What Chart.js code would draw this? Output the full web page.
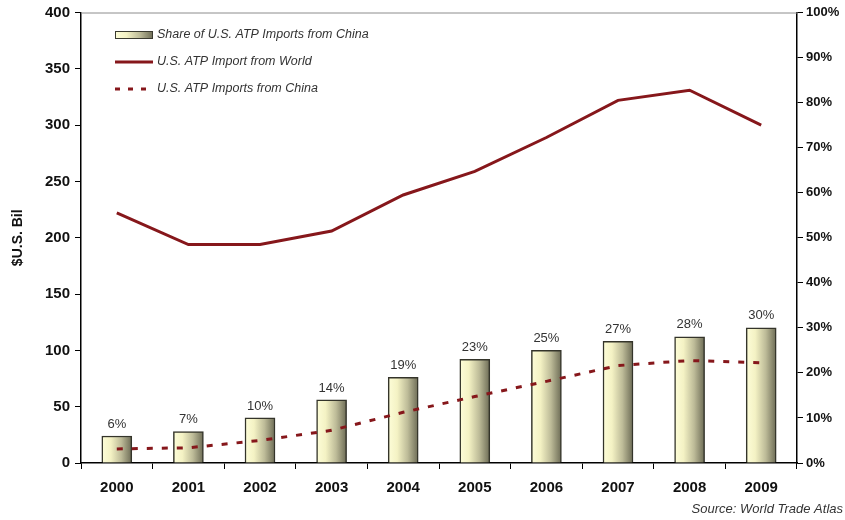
<!DOCTYPE html>
<html>
<head>
<meta charset="utf-8">
<script src="https://cdn.jsdelivr.net/npm/chart.js@4.4.1/dist/chart.umd.min.js"></script>
<style>
  html, body { margin: 0; padding: 0; background: #fff; }
  #wrap { width: 845px; height: 520px; }
</style>
</head>
<body>
<div id="wrap"><canvas id="myChart" width="845" height="520"></canvas></div>
<script>
const years = ['2000', '2001', '2002', '2003', '2004', '2005', '2006', '2007', '2008', '2009'];
const chinaShare = [6, 7, 10, 14, 19, 23, 25, 27, 28, 30];            // percent
const worldImports = [222, 194, 194, 206, 238, 259, 289, 322, 331, 300]; // $ bil
const chinaImports = [12.5, 13.5, 20, 29, 45, 59, 72.5, 86.5, 91, 89];   // $ bil
const leftTicks = [0, 50, 100, 150, 200, 250, 300, 350, 400];
const rightTicks = [0, 10, 20, 30, 40, 50, 60, 70, 80, 90, 100];

const FONT = '"Liberation Sans", Arial, sans-serif';
const RED = '#86171b';
const BAR_W = 30;

const barGradient = (ctx, x0, x1) => {
    const g = ctx.createLinearGradient(x0, 0, x1, 0);
    g.addColorStop(0, '#fdfdd8');
    g.addColorStop(0.3, '#f4f2c4');
    g.addColorStop(0.65, '#bdbb98');
    g.addColorStop(1, '#6c6b55');
    return g;
};

// legend box in the upper left of the plot, plus source note and top frame line
const decorations = {
    id: 'decorations',
    afterDraw(chart) {
        const { ctx, chartArea } = chart;
        ctx.save();
        // top frame line
        ctx.strokeStyle = '#8c8c8c';
        ctx.lineWidth = 1;
        ctx.beginPath();
        ctx.moveTo(chartArea.left, chartArea.top + 0.5);
        ctx.lineTo(chartArea.right, chartArea.top + 0.5);
        ctx.stroke();

        // value labels above bars
        const meta = chart.getDatasetMeta(0);
        ctx.font = '13px ' + FONT;
        ctx.fillStyle = '#333';
        ctx.textAlign = 'center';
        ctx.textBaseline = 'middle';
        meta.data.forEach((bar, i) => {
            ctx.fillText(chinaShare[i] + '%', bar.x, bar.y - 12);
        });

        // legend
        const lx0 = 115, lx1 = 153, tx = 157;
        const rows = [35, 62, 89];
        ctx.font = 'italic 12.5px ' + FONT;
        ctx.textAlign = 'left';
        ctx.fillStyle = '#333';
        chart.data.datasets.forEach((ds, i) => {
            const y = rows[i];
            if (i === 0) {
                ctx.fillStyle = barGradient(ctx, lx0, lx1);
                ctx.fillRect(lx0, y - 4, lx1 - lx0, 8);
                ctx.strokeStyle = '#3a3a30';
                ctx.lineWidth = 1;
                ctx.strokeRect(lx0 + 0.5, y - 3.5, lx1 - lx0 - 1, 7);
            } else {
                ctx.strokeStyle = RED;
                ctx.lineWidth = 3;
                ctx.setLineDash(i === 2 ? [5, 8] : []);
                ctx.beginPath();
                ctx.moveTo(lx0, y);
                ctx.lineTo(lx1, y);
                ctx.stroke();
                ctx.setLineDash([]);
            }
            ctx.fillStyle = '#333';
            ctx.fillText(ds.label, tx, y);
        });

        // source note
        ctx.font = 'italic 13px ' + FONT;
        ctx.textAlign = 'right';
        ctx.fillStyle = '#333';
        ctx.fillText('Source: World Trade Atlas', 843, 509);
        ctx.restore();
    }
};

const data = {
    labels: years,
    datasets: [
        {
            type: 'bar',
            label: 'Share of U.S. ATP Imports from China',
            data: chinaShare,
            yAxisID: 'y1',
            order: 3,
            barThickness: BAR_W,
            borderColor: '#34342a',
            borderWidth: 1.5,
            backgroundColor: (c) => {
                const chart = c.chart;
                if (!chart.chartArea || c.dataIndex === undefined) return '#f3f1c3';
                const x = chart.scales.x.getPixelForValue(c.dataIndex);
                return barGradient(chart.ctx, x - BAR_W / 2, x + BAR_W / 2);
            }
        },
        {
            type: 'line',
            label: 'U.S. ATP Import from World',
            data: worldImports,
            yAxisID: 'y',
            order: 1,
            borderColor: RED,
            borderWidth: 3,
            pointRadius: 0,
            tension: 0,
            fill: false
        },
        {
            type: 'line',
            label: 'U.S. ATP Imports from China',
            data: chinaImports,
            yAxisID: 'y',
            order: 2,
            borderColor: RED,
            borderWidth: 3,
            borderDash: [6, 9],
            pointRadius: 0,
            tension: 0,
            fill: false
        }
    ]
};

const tickFont = { family: FONT, size: 15, weight: 'bold', lineHeight: 1 };

const config = {
    type: 'bar',
    data,
    plugins: [decorations],
    options: {
        responsive: false,
        animation: false,
        layout: { padding: { top: 12, left: 0, right: 0, bottom: 0 } },
        plugins: {
            legend: { display: false },
            tooltip: { enabled: false }
        },
        scales: {
            x: {
                offset: true,
                grid: {
                    display: true,
                    offset: true,
                    drawOnChartArea: false,
                    tickLength: 6,
                    color: '#000'
                },
                border: { color: '#000', width: 1.5 },
                ticks: { font: tickFont, color: '#111', padding: 11 },
                afterFit(scale) { scale.height = 57; }
            },
            y: {
                position: 'left',
                min: 0,
                max: 400,
                afterBuildTicks(scale) { scale.ticks = leftTicks.map(v => ({ value: v })); },
                grid: { drawOnChartArea: false, tickLength: 6, color: '#000' },
                border: { color: '#000', width: 1.5 },
                ticks: { font: tickFont, color: '#111', padding: 5 },
                title: {
                    display: true,
                    text: '$U.S. Bil',
                    font: { family: FONT, size: 14, weight: 'bold' },
                    color: '#111',
                    padding: { top: 10, bottom: 0 }
                },
                afterFit(scale) { scale.width = 81; }
            },
            y1: {
                position: 'right',
                min: 0,
                max: 100,
                afterBuildTicks(scale) { scale.ticks = rightTicks.map(v => ({ value: v })); },
                grid: { drawOnChartArea: false, tickLength: 6, color: '#000' },
                border: { color: '#000', width: 1.5 },
                ticks: {
                    font: { family: FONT, size: 13, weight: 'bold', lineHeight: 1 },
                    color: '#111',
                    padding: 3,
                    callback: (v) => v + '%'
                },
                afterFit(scale) { scale.width = 48; }
            }
        }
    }
};

new Chart(document.getElementById('myChart'), config);
</script>
</body>
</html>
